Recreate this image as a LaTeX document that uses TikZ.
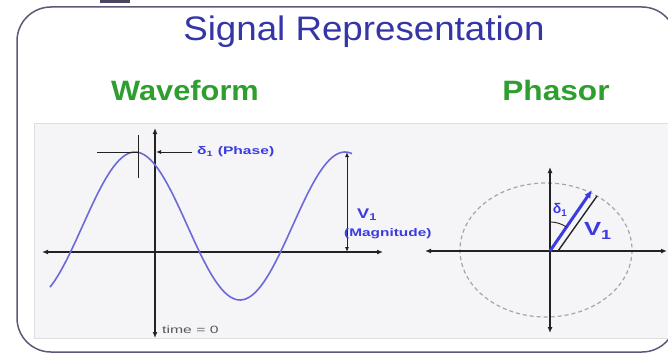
\documentclass[tikz,border=0pt]{standalone}
\usepackage{fontspec}
\setmainfont{Liberation Sans}
\usetikzlibrary{arrows.meta,calc}
\definecolor{titleblue}{HTML}{3535A8}
\definecolor{wfgreen}{HTML}{2E9E2E}
\definecolor{waveblue}{HTML}{6A6AD8}
\definecolor{lblblue}{HTML}{3B3BE0}
\definecolor{framegray}{HTML}{5C5878}
\definecolor{panelgray}{HTML}{F5F5F7}
\definecolor{axisblack}{HTML}{222222}
\newcommand\hstretch[2]{\scalebox{#1}[1]{#2}}
\tikzset{
  axis/.style={draw=axisblack, line width=1.3pt, {Latex[length=6pt,width=5pt]}-{Latex[length=6pt,width=5pt]}},
  thinline/.style={draw=axisblack, line width=0.9pt},
  lbl/.style={text=lblblue, font=\bfseries, inner sep=0pt},
  heading/.style={text=wfgreen, font=\bfseries\fontsize{28}{28}\selectfont, inner sep=0pt}
}
\begin{document}
\begin{tikzpicture}[x=1pt,y=-1pt]
\useasboundingbox (0,0) rectangle (668,353);
% small fragment at top
\fill[framegray!80!black] (100,-2) rectangle (130,3);
% frame
\draw[framegray, line width=1.5pt, rounded corners=34pt] (17,7) rectangle (676,352);
% panel
\fill[panelgray] (34,123) rectangle (668,338);
\draw[gray!25, line width=0.5pt] (668,123) -- (34,123) -- (34,338) -- (668,338);
% title and headings
\node[text=titleblue, font=\fontsize{34}{34}\selectfont, inner sep=0pt] (title) at (364,32) {\hstretch{1.08}{Signal Representation}};
\node[heading] (wf) at (185,90) {\hstretch{1.1}{Waveform}};
\node[heading] (ph) at (556,90) {\hstretch{1.13}{Phasor}};

% ---------- waveform ----------
\coordinate (wxl) at (42,252);
\coordinate (wxr) at (383,252);
\coordinate (wyt) at (155,128);
\coordinate (wyb) at (155,338);
\draw[axis] (wxl) -- (wxr);
\draw[axis] (wyt) -- (wyb);
\draw[waveblue, line width=1.6pt] plot[domain=50:352, samples=120] (\x, {226-74*cos((\x-135)*1.7142857)});
% phase marks
\coordinate (tickt) at (138,135);
\coordinate (tickb) at (138,178);
\coordinate (pl) at (97,152);
\coordinate (pm) at (138,152);
\coordinate (pa) at (156,152);
\coordinate (pr) at (192,152);
\draw[thinline] (tickt) -- (tickb);
\draw[thinline] (pl) -- (pm);
\draw[thinline, -{Latex[length=5pt,width=4pt]}] (pr) -- (pa);
\node[lbl, anchor=west, font=\bfseries\fontsize{11}{11}\selectfont] (phase) at (197,152) {\hstretch{1.42}{δ\textsubscript{1} (Phase)}};
% magnitude
\coordinate (mt) at (347,152);
\coordinate (mb) at (347,252);
\draw[thinline, {Latex[length=5pt,width=4pt]}-{Latex[length=5pt,width=4pt]}] (mt) -- (mb);
\node[lbl, anchor=west, font=\bfseries\fontsize{14}{14}\selectfont] (v1a) at (357,215) {\hstretch{1.3}{V\textsubscript{1}}};
\node[lbl, anchor=west, font=\bfseries\fontsize{11}{11}\selectfont] (mag) at (344,234) {\hstretch{1.4}{(Magnitude)}};
\node[text=black!65, anchor=west, inner sep=0pt, font=\fontsize{10.5}{10.5}\selectfont] (t0) at (162,330) {\hstretch{1.5}{time = 0}};

% ---------- phasor ----------
\coordinate (pxl) at (425,251);
\coordinate (pxr) at (667,251);
\coordinate (pyt) at (550,167);
\coordinate (pyb) at (550,333);
\coordinate (o) at (550,251);
\coordinate (tip) at (592,190);
\coordinate (bs) at (558,251);
\coordinate (be) at (597,196);
\draw[gray!70, dash pattern=on 4pt off 3pt, line width=1.2pt] (546,250) ellipse [x radius=86, y radius=67];
\draw[axis] (pxl) -- (pxr);
\draw[axis] (pyt) -- (pyb);
\draw[black!85, line width=1.4pt] (bs) -- (be);
\draw[lblblue, line width=3pt, -{Latex[length=8pt,width=7pt]}] (o) -- (tip);
\draw[thinline] plot[domain=0:35, samples=20] ({550+29*sin(\x)}, {251-29*cos(\x)});
\node[lbl, font=\bfseries\fontsize{14}{14}\selectfont] (d1) at (560,210) {δ\textsubscript{1}};
\node[lbl, font=\bfseries\fontsize{19}{19}\selectfont] (v1b) at (598,231) {\hstretch{1.35}{V\textsubscript{1}}};
\end{tikzpicture}
\end{document}
